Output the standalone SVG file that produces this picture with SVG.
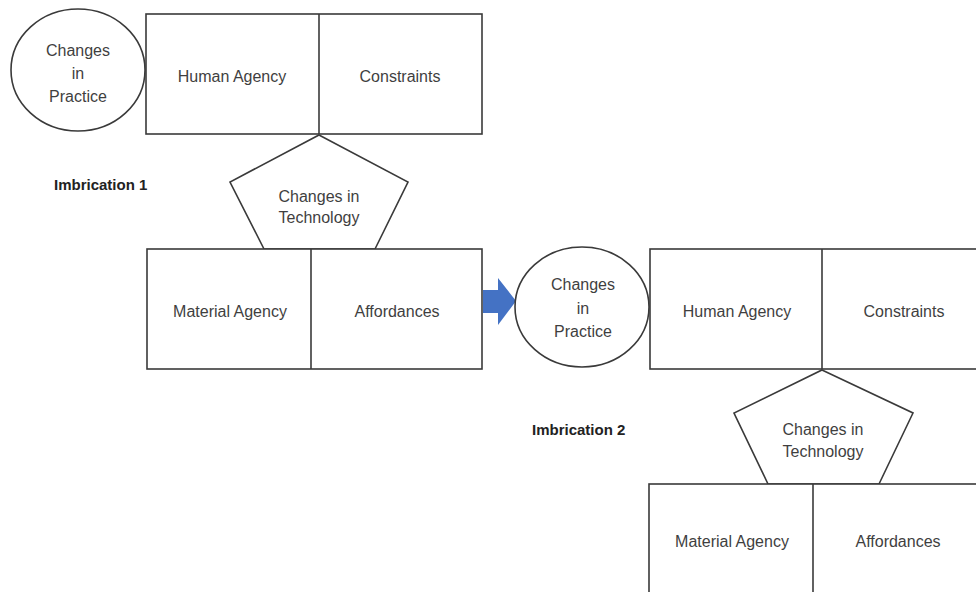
<svg xmlns="http://www.w3.org/2000/svg" width="976" height="592" viewBox="0 0 976 592">
<defs>
<style>
.shape{fill:#fff;stroke:#3a3a3a;stroke-width:1.6}
.t{font-family:"Liberation Sans",Arial,sans-serif;font-size:16px;fill:#3f3f3f;text-anchor:middle}
.lbl{font-family:"Liberation Sans",Arial,sans-serif;font-size:15px;font-weight:bold;fill:#222}
.arrow{fill:#4472c4}
</style>
</defs>
<rect width="976" height="592" fill="#fff"/>
<g id="connectors">
<path class="arrow" d="M483,290 H498 V278 L516,301 L498,325 V313 H483 Z"/>
</g>
<g id="practice1">
<ellipse class="shape" cx="78" cy="70" rx="67" ry="61"/>
<text class="t" x="78" y="56">Changes</text>
<text class="t" x="78" y="79">in</text>
<text class="t" x="78" y="102">Practice</text>
</g>
<g id="social1">
<rect class="shape" x="146" y="14" width="336" height="120"/>
<line class="shape" x1="319" y1="14" x2="319" y2="134"/>
<text class="t" x="232" y="82">Human Agency</text>
<text class="t" x="400" y="82">Constraints</text>
</g>
<g id="tech1">
<polygon class="shape" points="319,135 408,182 375,249 264,249 230,182"/>
<text class="t" x="319" y="202">Changes in</text>
<text class="t" x="319" y="223">Technology</text>
</g>
<g id="material1">
<rect class="shape" x="147" y="249" width="335" height="120"/>
<line class="shape" x1="311" y1="249" x2="311" y2="369"/>
<text class="t" x="230" y="317">Material Agency</text>
<text class="t" x="397" y="317">Affordances</text>
</g>
<g id="label1">
<text class="lbl" x="54" y="190">Imbrication 1</text>
</g>
<g id="practice2">
<ellipse class="shape" cx="582" cy="307" rx="67" ry="60"/>
<text class="t" x="583" y="290">Changes</text>
<text class="t" x="583" y="314">in</text>
<text class="t" x="583" y="337">Practice</text>
</g>
<g id="social2">
<rect class="shape" x="650" y="249" width="340" height="120"/>
<line class="shape" x1="822" y1="249" x2="822" y2="369"/>
<text class="t" x="737" y="317">Human Agency</text>
<text class="t" x="904" y="317">Constraints</text>
</g>
<g id="tech2">
<polygon class="shape" points="822,370 913,413 879,484 768,484 734,413"/>
<text class="t" x="823" y="435">Changes in</text>
<text class="t" x="823" y="457">Technology</text>
</g>
<g id="material2">
<rect class="shape" x="649" y="484" width="340" height="120"/>
<line class="shape" x1="813" y1="484" x2="813" y2="604"/>
<text class="t" x="732" y="547">Material Agency</text>
<text class="t" x="898" y="547">Affordances</text>
</g>
<g id="label2">
<text class="lbl" x="532" y="435">Imbrication 2</text>
</g>
</svg>
